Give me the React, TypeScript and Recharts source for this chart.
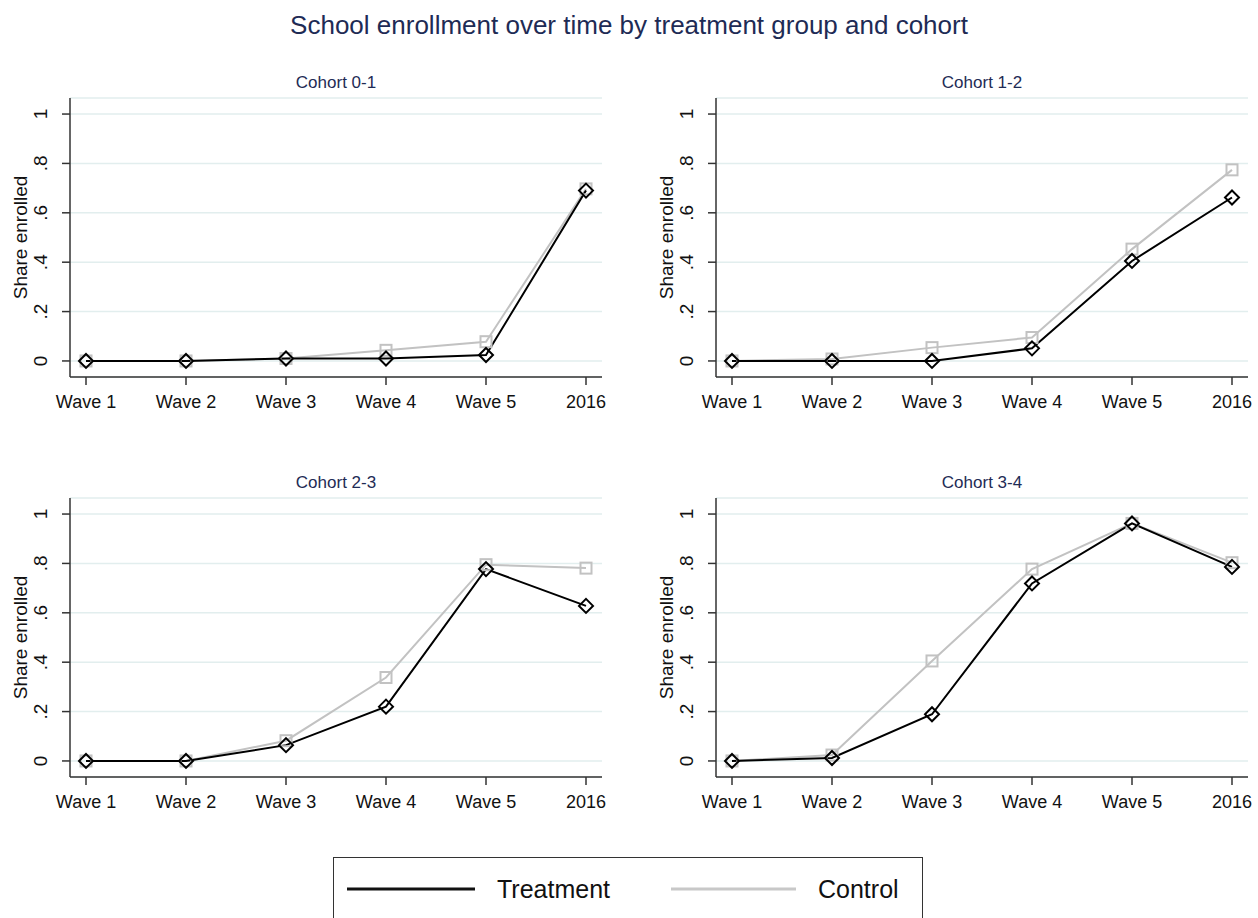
import React from "react";
import { LineChart, Line, XAxis, YAxis, CartesianGrid } from "recharts";

const waves = ["Wave 1", "Wave 2", "Wave 3", "Wave 4", "Wave 5", "2016"];
const yTicks = [0, 0.2, 0.4, 0.6, 0.8, 1];
const yTickLabels = ["0", ".2", ".4", ".6", ".8", "1"];

const cohorts = ["Cohort 0-1", "Cohort 1-2", "Cohort 2-3", "Cohort 3-4"];

const treat01 = [0, 0, 0.01, 0.01, 0.024, 0.69];
const ctrl01 = [0, 0, 0.01, 0.043, 0.078, 0.697];
const treat12 = [0, 0, 0, 0.051, 0.405, 0.662];
const ctrl12 = [0, 0.008, 0.054, 0.095, 0.453, 0.774];
const treat23 = [0, 0, 0.064, 0.22, 0.777, 0.628];
const ctrl23 = [0, 0, 0.082, 0.338, 0.795, 0.781];
const treat34 = [0, 0.012, 0.189, 0.719, 0.962, 0.786];
const ctrl34 = [0, 0.024, 0.405, 0.777, 0.962, 0.803];

const treatments = [treat01, treat12, treat23, treat34];
const controls = [ctrl01, ctrl12, ctrl23, ctrl34];

const NAVY = "#1e2b55";
const AXIS = "#333";
const GRAY = "#c2c2c2";
const FONT = "'Liberation Sans', Arial, Helvetica, sans-serif";

// panel origin (chart top-left)
const positions = [
  { left: 0, top: 90 },
  { left: 646, top: 90 },
  { left: 0, top: 490 },
  { left: 646, top: 490 },
];

const Diamond = (props: any) => {
  const { cx, cy } = props;
  if (cx == null || cy == null) return null;
  const r = 7;
  return (
    <path
      d={`M${cx},${cy - r}L${cx + r},${cy}L${cx},${cy + r}L${cx - r},${cy}Z`}
      fill="none"
      stroke="#000"
      strokeWidth={2}
    />
  );
};

const Square = (props: any) => {
  const { cx, cy } = props;
  if (cx == null || cy == null) return null;
  const h = 5.5;
  return <rect x={cx - h} y={cy - h} width={h * 2} height={h * 2} fill="none" stroke={GRAY} strokeWidth={2} />;
};

const YTick = (props: any) => {
  const { x, y, payload } = props;
  const i = yTicks.indexOf(payload.value);
  const tx = x - 13;
  return (
    <text x={tx} y={y} transform={`rotate(-90 ${tx} ${y})`} textAnchor="middle" fontSize={19} fill="#111" fontFamily={FONT}>
      {yTickLabels[i]}
    </text>
  );
};

function Panel({ idx }: { idx: number }) {
  const data = waves.map((w, i) => ({ wave: w, treat: treatments[idx][i], ctrl: controls[idx][i] }));
  const pos = positions[idx];
  return (
    <div style={{ position: "absolute", left: pos.left, top: pos.top }}>
      <div
        style={{
          position: "absolute",
          left: 70,
          width: 532,
          top: -17,
          textAlign: "center",
          fontSize: 17,
          color: NAVY,
          lineHeight: "20px",
          fontFamily: FONT,
        }}
      >
        {cohorts[idx]}
      </div>
      <LineChart width={620} height={345} data={data} margin={{ top: 8, right: 18, left: 0, bottom: 0 }}>
        <CartesianGrid vertical={false} stroke="#e2eeee" strokeWidth={1.5} />
        <XAxis
          dataKey="wave"
          padding={{ left: 16, right: 16 }}
          height={58}
          tickSize={8}
          tickMargin={10}
          stroke={AXIS}
          strokeWidth={1.5}
          tick={{ fontSize: 18, fill: "#111", fontFamily: FONT }}
          interval={0}
        />
        <YAxis
          domain={[-0.065, 1.065]}
          ticks={yTicks}
          width={70}
          tickSize={8}
          stroke={AXIS}
          strokeWidth={1.5}
          tick={<YTick />}
          label={{
            content: (p: any) => {
              const vb = p.viewBox;
              const cy = vb.y + vb.height / 2;
              return (
                <text x={27} y={cy} transform={`rotate(-90 27 ${cy})`} textAnchor="middle" fontSize={19} fill="#111" fontFamily={FONT}>
                  Share enrolled
                </text>
              );
            },
          }}
        />
        <Line dataKey="ctrl" stroke={GRAY} strokeWidth={2} dot={<Square />} isAnimationActive={false} />
        <Line dataKey="treat" stroke="#000" strokeWidth={2} dot={<Diamond />} isAnimationActive={false} />
      </LineChart>
    </div>
  );
}

export default function App() {
  return (
    <div
      style={{
        position: "absolute",
        left: 0,
        top: 0,
        width: 1258,
        height: 918,
        background: "#fff",
        overflow: "hidden",
        fontFamily: FONT,
      }}
    >
      <div style={{ position: "absolute", left: 0, width: 1258, top: 9, textAlign: "center", fontSize: 26, color: NAVY, lineHeight: "32px" }}>
        School enrollment over time by treatment group and cohort
      </div>
      {[0, 1, 2, 3].map((i) => (
        <Panel key={i} idx={i} />
      ))}
      <div
        style={{
          position: "absolute",
          left: 333,
          top: 857,
          width: 590,
          height: 90,
          border: "1.5px solid #333",
          boxSizing: "border-box",
        }}
      >
        <svg width={590} height={60} style={{ position: "absolute", left: 0, top: 0 }}>
          <line x1={13} x2={141} y1={31} y2={31} stroke="#111" strokeWidth={3} />
          <text x={163} y={40} fontSize={25} fill="#111" fontFamily={FONT}>Treatment</text>
          <line x1={337} x2={462} y1={31} y2={31} stroke="#c8c8c8" strokeWidth={3} />
          <text x={484} y={40} fontSize={25} fill="#111" fontFamily={FONT}>Control</text>
        </svg>
      </div>
    </div>
  );
}
